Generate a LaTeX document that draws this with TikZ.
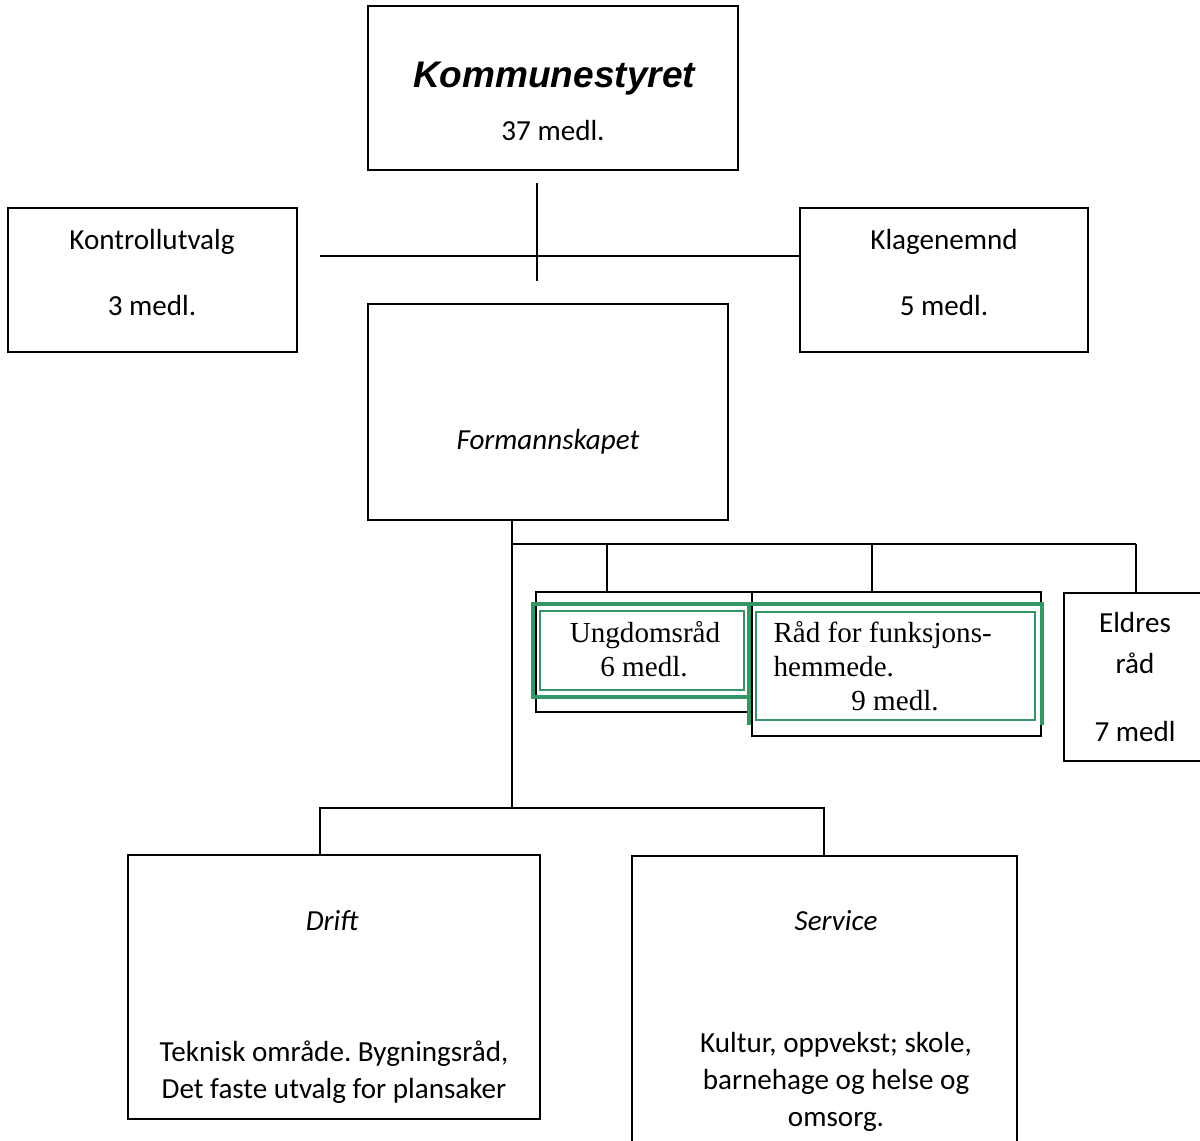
\documentclass[tikz,border=0pt]{standalone}
\usepackage{fontspec}
\setmainfont{Carlito}
\newfontfamily\arialfont{Liberation Sans}
\newfontfamily\timesfont{Liberation Serif}
\usetikzlibrary{positioning}
\definecolor{framegreen}{RGB}{52,150,100}
\newcommand{\pu}{0.378pt}
\frenchspacing

\begin{document}
\begin{tikzpicture}[
    x=\pu, y=-\pu,
    box/.style={draw, line width=0.75pt, inner sep=0pt},
    txt/.style={anchor=base, inner sep=0pt, font=\fontsize{11}{13}\selectfont},
    rtxt/.style={anchor=base, inner sep=0pt, font=\timesfont\fontsize{11}{13}\selectfont},
    link/.style={line width=0.75pt},
    gthick/.style={draw=framegreen, line width=1.25pt},
    gthin/.style={draw=framegreen, line width=0.6pt}
]
    \useasboundingbox (0,0) rectangle (1200,1141);

    % Top level
    \node[box, minimum width=370*\pu, minimum height=164*\pu] (kom) at (553,88) {};
    \node[txt, font=\arialfont\bfseries\itshape\fontsize{14}{16}\selectfont] (kom-name) at (554,88) {Kommunestyret};
    \node[txt] (kom-num) at (553,141) {37 medl.};

    % Side committees
    \node[box, minimum width=289*\pu, minimum height=144*\pu] (kont) at (152.5,280) {};
    \node[txt] (kont-name) at (152,250) {Kontrollutvalg};
    \node[txt] (kont-num) at (152,316) {3 medl.};
    \node[box, minimum width=288*\pu, minimum height=144*\pu] (klag) at (944,280) {};
    \node[txt] (klag-name) at (944,250) {Klagenemnd};
    \node[txt] (klag-num) at (944,316) {5 medl.};

    % Formannskapet
    \node[box, minimum width=360*\pu, minimum height=216*\pu] (form) at (548,412) {};
    \node[txt, font=\itshape\fontsize{11}{13}\selectfont] (form-name) at (548,450) {Formannskapet};

    % Councils
    \node[box, minimum width=216*\pu, minimum height=120*\pu] (ung) at (644,652) {};
    \node[box, minimum width=289*\pu, minimum height=144*\pu] (raad) at (896.5,664) {};
    \node[box, minimum width=144*\pu, minimum height=168*\pu] (eldre) at (1136,677) {};

    % Green frames
    \draw[gthick] (533,604) rectangle (749,697);
    \draw[gthick] (749,725) -- (749,604) -- (1042,604) -- (1042,725);
    \draw[gthin] (540,611) rectangle (744,690);
    \draw[gthin] (756,612) rectangle (1035,720);

    \node[rtxt] (ung-name) at (645,642) {Ungdomsråd};
    \node[rtxt] (ung-num) at (644,676) {6 medl.};
    \node[rtxt, anchor=base west] (raad-name) at (773,642) {Råd for funksjons-};
    \node[rtxt, anchor=base west] (raad-name2) at (773,676) {hemmede.};
    \node[rtxt] (raad-num) at (895,710) {9 medl.};
    \node[txt] (eldre-name) at (1135,632) {Eldres};
    \node[txt] (eldre-name2) at (1135,673) {råd};
    \node[txt] (eldre-num) at (1135,741) {7 medl};

    % Sectors
    \node[box, minimum width=412*\pu, minimum height=264*\pu] (drift) at (334,987) {};
    \node[txt, font=\itshape\fontsize{11}{13}\selectfont] (drift-name) at (332,930) {Drift};
    \node[txt] (drift-l1) at (334,1061) {Teknisk område. Bygningsråd,};
    \node[txt] (drift-l2) at (334,1098) {Det faste utvalg for plansaker};
    \node[box, minimum width=385*\pu, minimum height=310*\pu] (serv) at (824.5,1011) {};
    \node[txt, font=\itshape\fontsize{11}{13}\selectfont] (serv-name) at (836,930) {Service};
    \node[txt] (serv-l1) at (836,1052) {Kultur, oppvekst; skole,};
    \node[txt] (serv-l2) at (836,1089) {barnehage og helse og};
    \node[txt] (serv-l3) at (836,1126) {omsorg.};

    % Connections
    \coordinate (kom-stem) at (537,183);
    \coordinate (kom-foot) at (537,281);
    \coordinate (side-l) at (320,256);
    \coordinate (trunk) at (512,808);
    \coordinate (council) at (512,544);
    \draw[link] (kom-stem) -- (kom-foot);
    \draw[link] (side-l) -- (side-l -| klag.west);
    \draw[link] (form.south -| trunk) -- (trunk);
    \draw[link] (council) -- (council -| eldre.north);
    \foreach \x/\n in {607/ung, 872/raad, 1136/eldre}
        \draw[link] (\x,544) -- (\n.north -| \x,0);
    \draw[link] (drift.north -| 320,0) -- (320,808) -- (824,808) -- (serv.north -| 824,0);
\end{tikzpicture}
\end{document}
